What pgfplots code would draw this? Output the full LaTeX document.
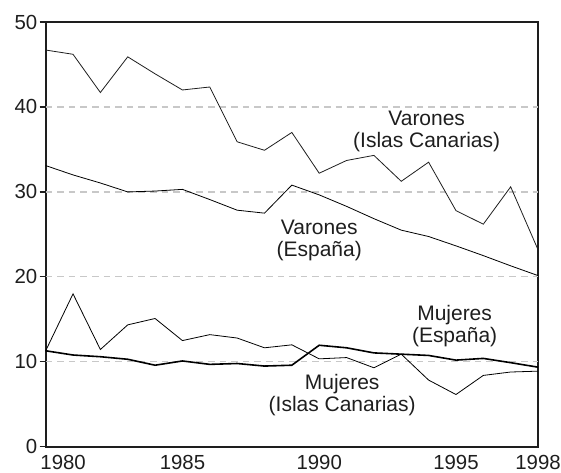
\documentclass[border=0pt]{standalone}
\usepackage{fontspec}
\setmainfont{Liberation Sans}
\usepackage{pgfplots}
\pgfplotsset{compat=1.18}
\definecolor{ink}{RGB}{30,30,30}
\definecolor{gridgray}{RGB}{200,200,200}
\begin{document}
\begin{tikzpicture}
\useasboundingbox (-22.85pt,-13pt) rectangle (257.8pt,223.5pt);
\begin{axis}[
  at={(0,0)}, anchor=south west,
  scale only axis,
  width=246.3pt, height=212.5pt,
  xmin=1980, xmax=1998, ymin=0, ymax=50,
  xtick={1980,1985,1990,1995,1998},
  xticklabels={\makebox[0pt][l]{\hspace*{-2.6pt}1980},1985,1990,1995,1998},
  ytick={0,50},
  extra y ticks={10,20,30,40},
  extra y tick style={ymajorgrids=true},
  /pgf/number format/assume math mode=true,
  tick label style={font=\fontsize{10.2}{12}\selectfont, text=ink},
  xticklabel style={inner sep=1pt, yshift=0pt},
  yticklabel style={inner sep=1pt},
  x tick style={draw=none},
  major tick length=3pt,
  tick align=outside,
  y tick style={ink, line width=0.6pt},
  ytick pos=left,
  axis line style={ink, line width=1pt},
  grid style={gridgray, line width=0.6pt, dash pattern=on 3.3pt off 2.5pt},
  cycle list={{ink, solid, line width=0.8pt, mark=none, line join=miter}},
  clip=false,
]
% Varones (Islas Canarias)
\addplot coordinates {(1980,46.7) (1981,46.2) (1982,41.7) (1983,45.9) (1984,43.9) (1985,42.0) (1986,42.35) (1987,35.9) (1988,34.9) (1989,37.0) (1990,32.2) (1991,33.7) (1992,34.3) (1993,31.25) (1994,33.5) (1995,27.8) (1996,26.2) (1997,30.6) (1998,23.2)};
% Varones (Espana)
\addplot coordinates {(1980,33.1) (1981,32.0) (1982,31.05) (1983,30.0) (1984,30.1) (1985,30.3) (1986,29.1) (1987,27.85) (1988,27.5) (1989,30.8) (1990,29.65) (1991,28.3) (1992,26.85) (1993,25.5) (1994,24.75) (1995,23.65) (1996,22.5) (1997,21.3) (1998,20.15)};
% Mujeres (Espana)
\addplot coordinates {(1980,11.3) (1981,10.8) (1982,10.6) (1983,10.3) (1984,9.6) (1985,10.1) (1986,9.7) (1987,9.8) (1988,9.5) (1989,9.6) (1990,11.95) (1991,11.65) (1992,11.05) (1993,10.9) (1994,10.75) (1995,10.2) (1996,10.4) (1997,9.9) (1998,9.37)};
% Mujeres (Islas Canarias)
\addplot coordinates {(1980,11.3) (1981,18.0) (1982,11.45) (1983,14.35) (1984,15.1) (1985,12.5) (1986,13.2) (1987,12.8) (1988,11.65) (1989,12.0) (1990,10.35) (1991,10.5) (1992,9.3) (1993,10.9) (1994,7.85) (1995,6.15) (1996,8.4) (1997,8.8) (1998,8.9)};
\begin{scope}[every node/.style={align=center, text=ink, font=\fontsize{10.5}{11}\selectfont, inner sep=0pt}]
\node at (axis cs:1993.93,37.1) {Varones\\(Islas Canarias)};
\node at (axis cs:1990.0,24.3) {Varones\\(España)};
\node at (axis cs:1994.95,14.2) {Mujeres\\(España)};
\node at (axis cs:1990.84,6.1) {Mujeres\\(Islas Canarias)};
\end{scope}
\end{axis}
\end{tikzpicture}
\end{document}
